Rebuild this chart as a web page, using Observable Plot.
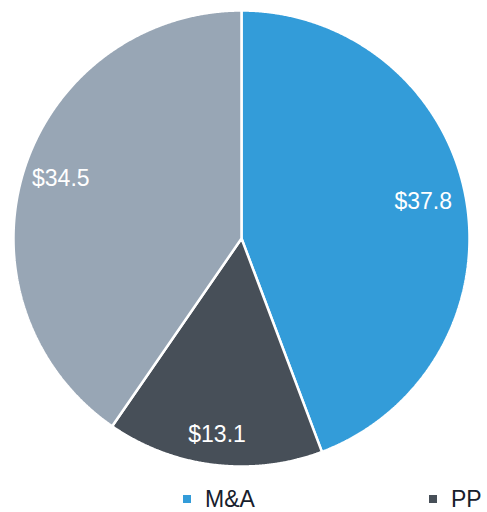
<!DOCTYPE html>
<html>
<head>
<meta charset="utf-8">
<script src="https://cdn.jsdelivr.net/npm/d3@7"></script>
<script src="https://cdn.jsdelivr.net/npm/@observablehq/plot@0.6"></script>
<style>
  html, body { margin: 0; padding: 0; background: #fff; }
  #wrap { position: relative; width: 487px; height: 512px; overflow: hidden; font-family: "Liberation Sans", Arial, sans-serif; }
  .leg { position: absolute; top: 485px; height: 28px; display: flex; align-items: center; font-size: 23px; color: #17202c; }
  .sw { width: 8px; height: 8px; margin-right: 14px; }
</style>
</head>
<body>
<div id="wrap"></div>
<script>
const categories = ["M&A", "PP", "Other"];
const values = [37.8, 13.1, 34.5];
const labels = ["$37.8", "$13.1", "$34.5"];
const legendItems = ["M&A", "PP"];
const colors = ["#339cd9", "#474f58", "#98a6b5"];

const labelRadius = [0.81, 0.885, 0.83];
const total = d3.sum(values);
const slices = [];
const labelPts = [];
let start = 0;
values.forEach((v, i) => {
  const span = v / total * 2 * Math.PI;
  const end = start + span;
  slices.push({cat: categories[i], x: 0, y: 0});
  const n = Math.max(2, Math.ceil(span / (Math.PI / 720)));
  for (let j = 0; j <= n; j++) {
    const a = start + span * j / n;
    slices.push({cat: categories[i], x: Math.sin(a), y: Math.cos(a)});
  }
  slices.push({cat: categories[i], x: 0, y: 0});
  const mid = (start + end) / 2;
  const r = labelRadius[i];
  labelPts.push({label: labels[i], x: r * Math.sin(mid), y: r * Math.cos(mid)});
  start = end;
});

const chart = Plot.plot({
  width: 487,
  height: 476,
  marginLeft: 13,
  marginRight: 18,
  marginTop: 10,
  marginBottom: 10,
  x: {domain: [-1, 1], axis: null},
  y: {domain: [-1, 1], axis: null},
  color: {domain: categories, range: colors},
  style: {fontFamily: "'Liberation Sans', Arial, sans-serif", background: "white"},
  marks: [
    Plot.line(slices, {x: "x", y: "y", z: "cat", fill: "cat", stroke: "white", strokeWidth: 2.5, strokeLinejoin: "miter", curve: "linear"}),
    Plot.text(labelPts, {x: "x", y: "y", text: "label", fill: "white", fontSize: 23, dy: -4})
  ]
});

const wrap = document.getElementById("wrap");
wrap.appendChild(chart);

const legPos = [183, 429];
legendItems.forEach((name, i) => {
  const div = document.createElement("div");
  div.className = "leg";
  div.style.left = legPos[i] + "px";
  const sw = document.createElement("div");
  sw.className = "sw";
  sw.style.background = colors[categories.indexOf(name)];
  const t = document.createElement("span");
  t.textContent = name;
  div.appendChild(sw);
  div.appendChild(t);
  wrap.appendChild(div);
});
</script>
</body>
</html>
